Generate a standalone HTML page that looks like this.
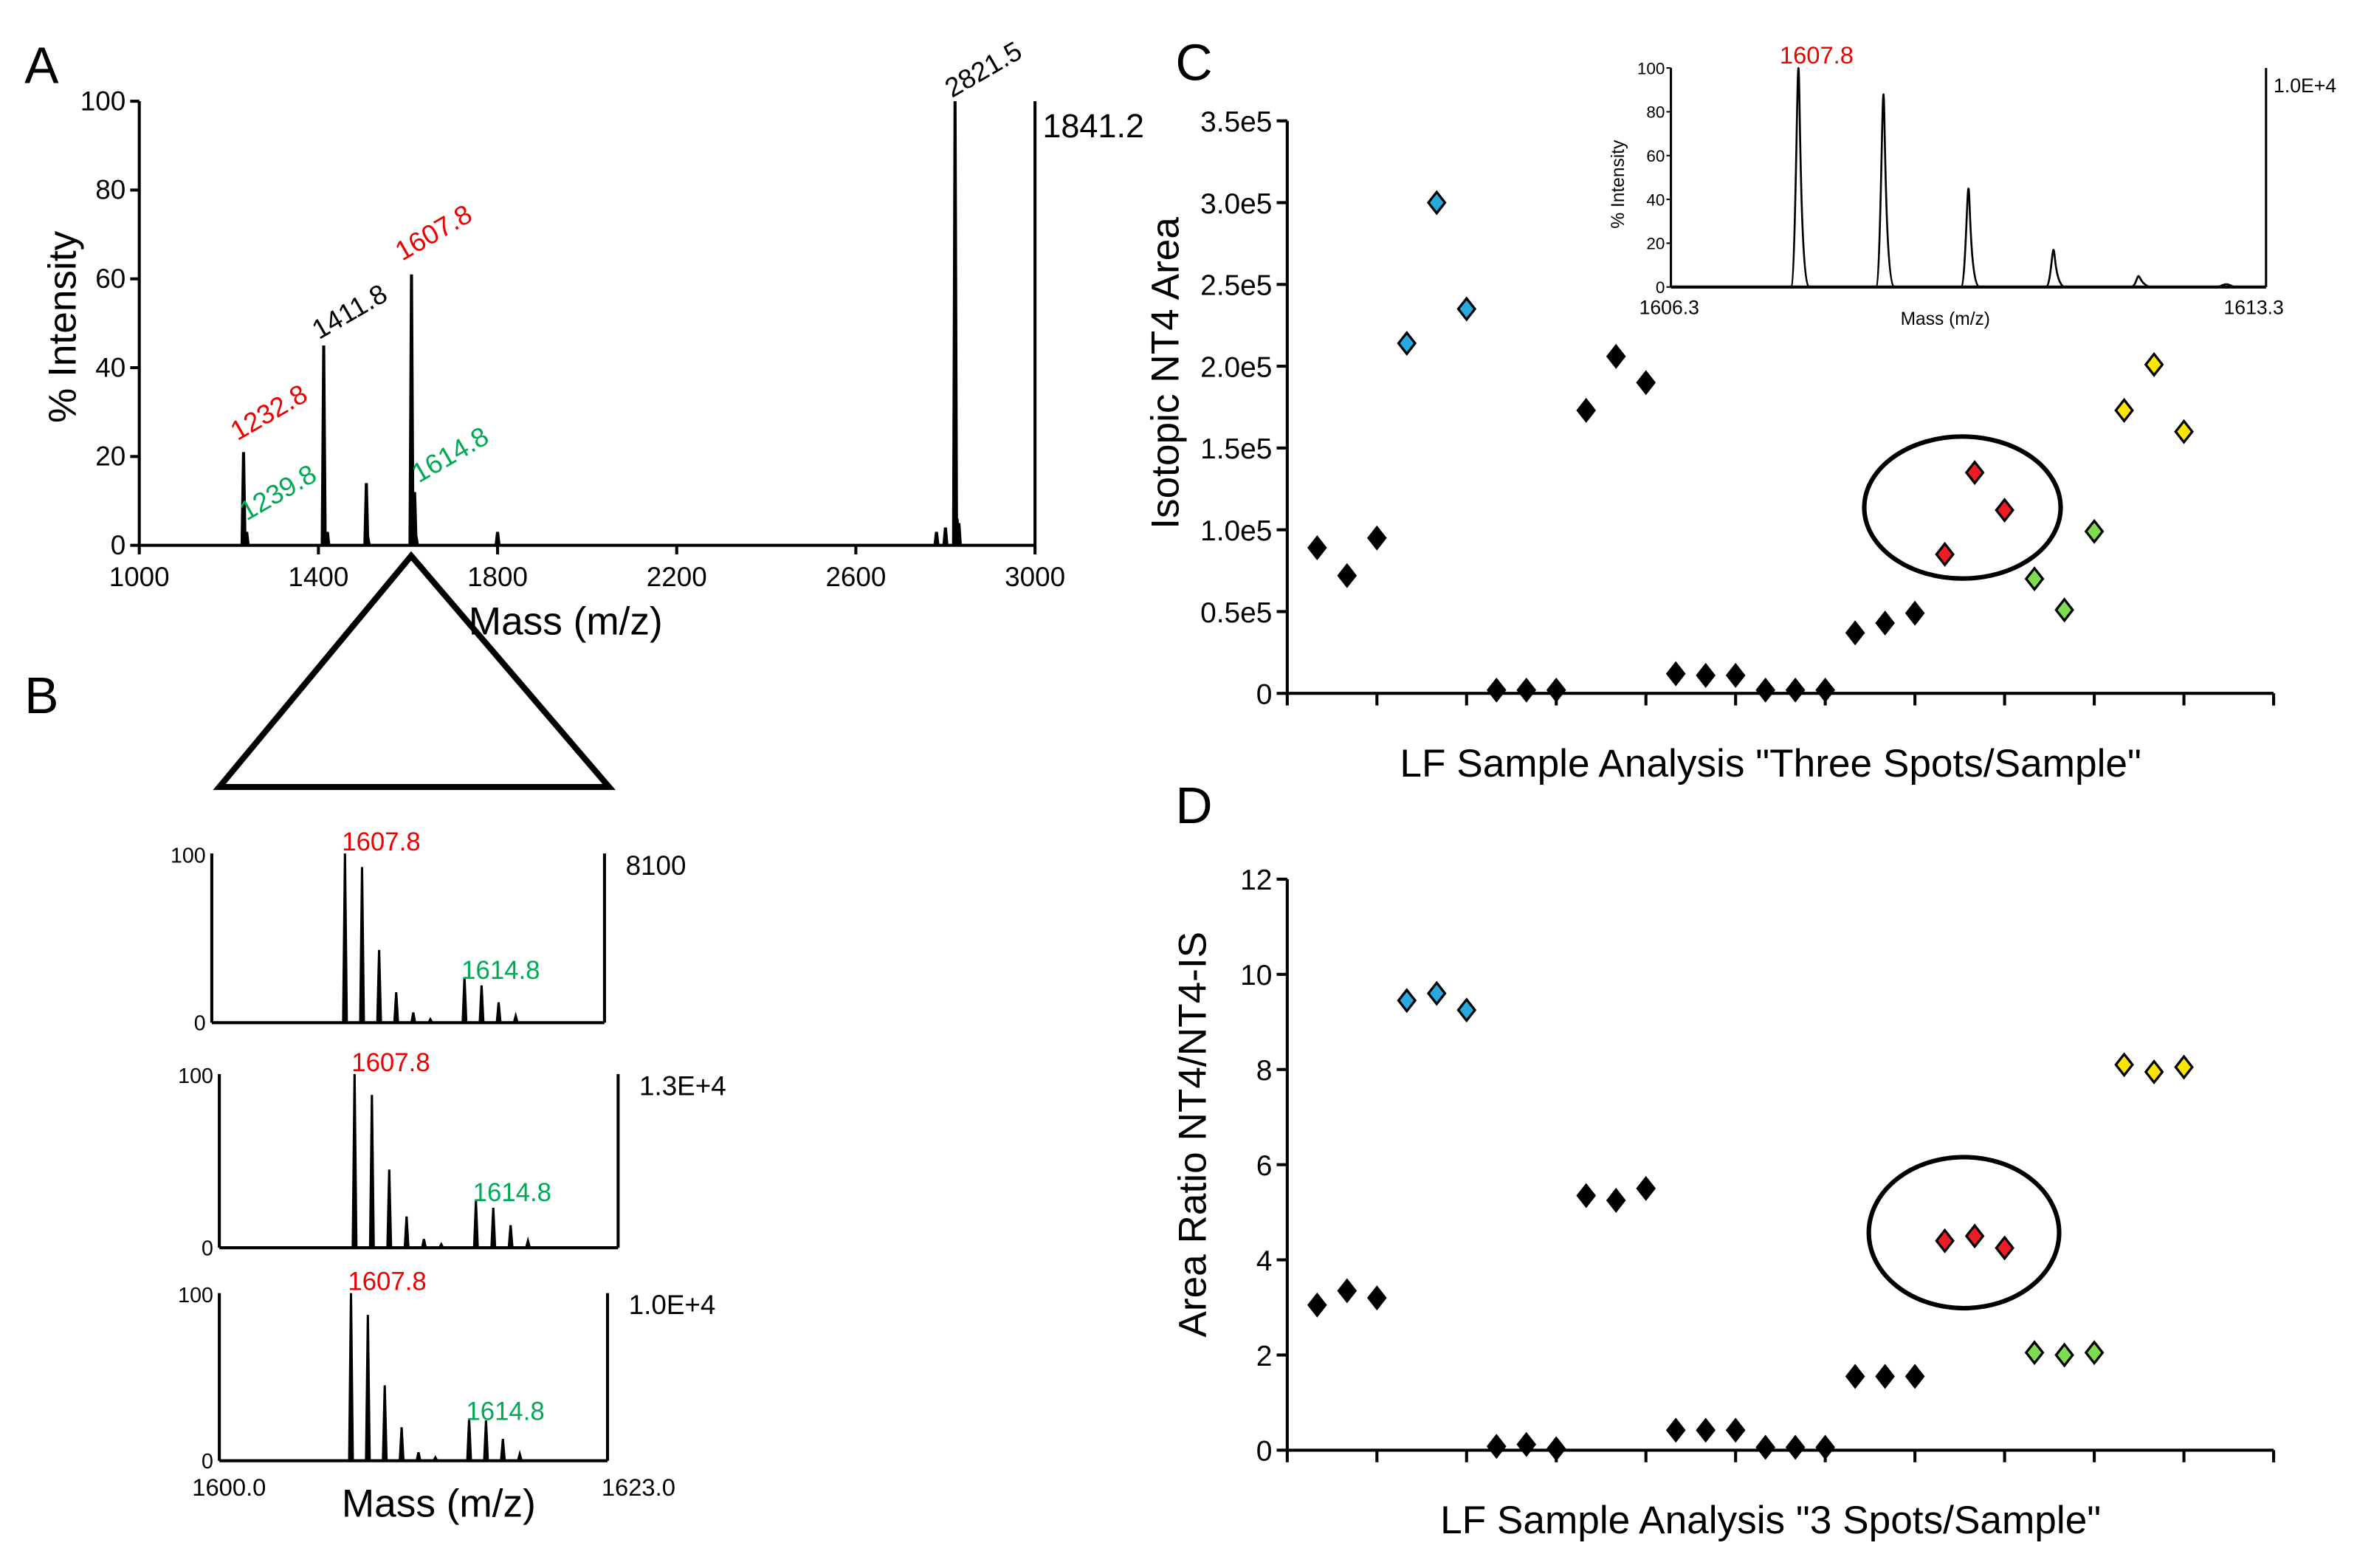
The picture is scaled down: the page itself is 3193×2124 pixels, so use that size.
<!DOCTYPE html>
<html><head><meta charset="utf-8"><style>
html,body{margin:0;padding:0;background:#fff;}
svg{display:block;font-family:"Liberation Sans",Arial,sans-serif;}
</style></head><body>
<svg id="fig" width="3193" height="2124" viewBox="0 0 1560 1038" xmlns="http://www.w3.org/2000/svg">
<rect width="1560" height="1038" fill="#fff"/>
<g id="gA"></g>
<g id="gB"></g>
<g id="gC"></g>
<g id="gD"></g>
</svg>
<script>
// ---------- data ----------
const specAMasses = [1232.8,1235,1239.8,1411.8,1414,1420,1507,1510,1607.8,1611,1614.8,1618,1800,2780,2800,2821.5,2826,2830];
const specAHeights = [21,3,3,45,4,3,14,2,61,4,12,2,3,3,4,100,6,5];
const aYTicks = [0,20,40,60,80,100];
const aXTicks = [1000,1400,1800,2200,2600,3000];
const bMasses = [1607.8,1608.8,1609.8,1610.8,1611.8,1612.8,1614.8,1615.8,1616.8,1617.8];
const b1Heights = [100,92,43,18,6,2,27,22,12,4];
const b2Heights = [100,88,45,18,5,2,27,23,13,4];
const b3Heights = [100,87,45,20,5,2,25,24,13,4];
const insetMasses = [1607.8,1608.8,1609.8,1610.8,1611.8,1612.8];
const insetHeights = [100,88,45,17,5,1];
const insetTicks = [0,20,40,60,80,100];
const cValues = [0.89,0.72,0.95, 2.14,3.0,2.35, 0.02,0.02,0.02, 1.73,2.06,1.90, 0.12,0.11,0.11, 0.02,0.02,0.02, 0.37,0.43,0.49, 0.85,1.35,1.12, 0.70,0.51,0.99, 1.73,2.01,1.60];
const cTicks = [0,0.5,1.0,1.5,2.0,2.5,3.0,3.5];
const cTickLabels = ["0","0.5e5","1.0e5","1.5e5","2.0e5","2.5e5","3.0e5","3.5e5"];
const dValues = [3.05,3.35,3.2, 9.45,9.6,9.25, 0.08,0.12,0.03, 5.35,5.25,5.5, 0.42,0.42,0.42, 0.06,0.06,0.06, 1.55,1.55,1.55, 4.4,4.5,4.25, 2.05,2.0,2.05, 8.1,7.95,8.05];
const dTicks = [0,2,4,6,8,10,12];
const groupColors = ["#000","#29a9e0","#000","#000","#000","#000","#000","#ee1c24","#7ddc4f","#ffe600"];

const NS="http://www.w3.org/2000/svg";
function mk(parent,tag,attrs,text){const e=document.createElementNS(NS,tag);for(const k in attrs)e.setAttribute(k,attrs[k]);if(text!==undefined)e.textContent=text;parent.appendChild(e);return e;}

// ---------- Panel A ----------
const gA=document.getElementById('gA');
const axA=m=>92+(m-1000)*(593/2000), ayA=v=>361-v*2.94;
let l=mk(gA,'line',{x1:92,y1:67,x2:92,y2:361,stroke:'#000','stroke-width':2});

l=mk(gA,'line',{x1:92,y1:361,x2:685,y2:361,stroke:'#000','stroke-width':2});

l=mk(gA,'line',{x1:685,y1:67,x2:685,y2:361,stroke:'#000','stroke-width':2});

aYTicks.forEach(v=>{mk(gA,'line',{x1:86,y1:ayA(v),x2:92,y2:ayA(v),stroke:'#000','stroke-width':2});
 const t=mk(gA,'text',{x:83,y:ayA(v)+6,'text-anchor':'end','font-size':18},String(v));
 });
aXTicks.forEach(v=>{mk(gA,'line',{x1:axA(v),y1:361,x2:axA(v),y2:367,stroke:'#000','stroke-width':2});
 const t=mk(gA,'text',{x:axA(v),y:388,'text-anchor':'middle','font-size':18},String(v));
 });
let pd='';specAMasses.forEach((m,i)=>{const x=axA(m);pd+=`M${x-1},361 L${x},${ayA(specAHeights[i])} L${x+1},361 `;});
l=mk(gA,'path',{d:pd,stroke:'#000','stroke-width':2,fill:'#000'});

let t=mk(gA,'text',{x:16,y:55,'font-size':34},'A');
t=mk(gA,'text',{x:0,y:0,'font-size':26,transform:'translate(50,280) rotate(-90)'},'% Intensity');
t=mk(gA,'text',{x:310,y:420,'font-size':26},'Mass (m/z)');
t=mk(gA,'text',{x:690,y:91,'font-size':22},'1841.2');
[[157,292,'1232.8','#e00'],[163,345,'1239.8','#0a5'],[211,225,'1411.8','#000'],[266,173,'1607.8','#e00'],[277,320,'1614.8','#0a5'],[630,65,'2821.5','#000']].forEach(p=>{
 const e=mk(gA,'text',{x:p[0],y:p[1],'font-size':18,fill:p[3],transform:`rotate(-30 ${p[0]} ${p[1]})`},p[2]);
 });

// ---------- Panel B ----------
const gB=document.getElementById('gB');
t=mk(gB,'text',{x:16,y:472,'font-size':34},'B');
l=mk(gB,'polygon',{points:'272,368 145,521 403,521',fill:'none',stroke:'#000','stroke-width':4});

function spectrumB(x0,x1,y0,y100,heights,scale,lblY,idx){
 const sx=m=>x0+(m-1600)*(x1-x0)/23, sy=v=>y0-v*(y0-y100)/100;
 mk(gB,'line',{x1:x0,y1:y100,x2:x0,y2:y0,stroke:'#000','stroke-width':2});
 mk(gB,'line',{x1:x0,y1:y0,x2:x1,y2:y0,stroke:'#000','stroke-width':2});
 mk(gB,'line',{x1:x1,y1:y100,x2:x1,y2:y0,stroke:'#000','stroke-width':2});
 let d='';bMasses.forEach((m,i)=>{const x=sx(m);d+=`M${x-1.2},${y0} L${x},${sy(heights[i])} L${x+1.2},${y0} `;});
 const p=mk(gB,'path',{d:d,fill:'#000',stroke:'#000','stroke-width':1.5});
 
 let e=mk(gB,'text',{x:x0-4,y:y100+6,'text-anchor':'end','font-size':14},'100');
 e=mk(gB,'text',{x:x0-4,y:y0+5,'text-anchor':'end','font-size':14},'0');
 e=mk(gB,'text',{x:x1+14,y:y100+14,'font-size':18},scale);
 e=mk(gB,'text',{x:sx(1607.8)-2,y:y100-2,'font-size':17,fill:'#e00'},'1607.8');
 e=mk(gB,'text',{x:sx(1614.8)-2,y:lblY,'font-size':17,fill:'#0a5'},'1614.8');
}
spectrumB(140,400,677,565,b1Heights,'8100',648,1);
spectrumB(145,409,826,711,b2Heights,'1.3E+4',795,2);
spectrumB(145,402,967,856,b3Heights,'1.0E+4',940,3);
t=mk(gB,'text',{x:127,y:990,'font-size':16},'1600.0');
t=mk(gB,'text',{x:398,y:990,'font-size':16},'1623.0');
t=mk(gB,'text',{x:226,y:1004,'font-size':26},'Mass (m/z)');

// ---------- scatter helper ----------
function scatter(g,prefix,values,ticks,tickLabels,yBottom,yTop,maxV,ellipse,xTitle,yTitle,letterY){
 const x0=852,x1=1505,step=(x1-x0)/33;
 const sy=v=>yBottom-v*(yBottom-yTop)/maxV, sx=i=>x0+step*(i+1);
 let a=mk(g,'line',{x1:x0,y1:yTop,x2:x0,y2:yBottom,stroke:'#000','stroke-width':2});
 
 a=mk(g,'line',{x1:x0,y1:yBottom,x2:x1,y2:yBottom,stroke:'#000','stroke-width':2});
 
 ticks.forEach((v,i)=>{mk(g,'line',{x1:x0-7,y1:sy(v),x2:x0,y2:sy(v),stroke:'#000','stroke-width':2});
  const e=mk(g,'text',{x:x0-10,y:sy(v)+7,'text-anchor':'end','font-size':19},tickLabels[i]);
  });
 for(let k=0;k<=33;k+=3){mk(g,'line',{x1:x0+k*step,y1:yBottom,x2:x0+k*step,y2:yBottom+8,stroke:'#000','stroke-width':2});}
 mk(g,'line',{x1:x1,y1:yBottom,x2:x1,y2:yBottom+8,stroke:'#000','stroke-width':2});
 values.forEach((v,i)=>{const x=sx(i),y=sy(v),c=groupColors[Math.floor(i/3)];
  const p=mk(g,'polygon',{points:`${x},${y-7} ${x+5.5},${y} ${x},${y+7} ${x-5.5},${y}`,fill:c,stroke:'#000','stroke-width':1.6});
  });
 const el=mk(g,'ellipse',{cx:ellipse[0],cy:ellipse[1],rx:ellipse[2],ry:ellipse[3],fill:'none',stroke:'#000','stroke-width':3});
 
 let e=mk(g,'text',{x:1172,y:yBottom+55,'text-anchor':'middle','font-size':26},xTitle);
 
 e=mk(g,'text',{x:0,y:0,'text-anchor':'middle','font-size':26,transform:`translate(${yTitle[1]},${yTitle[2]}) rotate(-90)`},yTitle[0]);
 
 e=mk(g,'text',{x:778,y:letterY,'font-size':34},prefix.toUpperCase());
 
}
const gC=document.getElementById('gC'),gD=document.getElementById('gD');
scatter(gC,'c',cValues,cTicks,cTickLabels,459,80,3.5,[1299,336,65,47],'LF Sample Analysis "Three Spots/Sample"',['Isotopic NT4 Area',780,247],53);
scatter(gD,'d',dValues,dTicks,dTicks.map(String),960,582,12,[1300,816,63,50],'LF Sample Analysis "3 Spots/Sample"',['Area Ratio NT4/NT4-IS',798,751],545);

// ---------- Inset in C ----------
const ix0=1106,ix1=1500,iy0=190,iy100=45;
const isx=m=>ix0+(m-1606.3)*(ix1-ix0)/7, isy=v=>iy0-v*(iy0-iy100)/100;
mk(gC,'line',{x1:ix0,y1:iy100,x2:ix0,y2:iy0,stroke:'#000','stroke-width':1.5});
mk(gC,'line',{x1:ix0,y1:iy0,x2:ix1,y2:iy0,stroke:'#000','stroke-width':2});
mk(gC,'line',{x1:ix1,y1:iy100,x2:ix1,y2:iy0,stroke:'#000','stroke-width':1.5});
insetTicks.forEach(v=>{mk(gC,'line',{x1:ix0-3,y1:isy(v),x2:ix0,y2:isy(v),stroke:'#000'});
 const e=mk(gC,'text',{x:ix0-4,y:isy(v)+4,'text-anchor':'end','font-size':11},String(v));
 });
let idd='';insetMasses.forEach((m,i)=>{const x=isx(m),y=isy(insetHeights[i]);idd+=`M${x-5},${iy0} C${x-2},${iy0} ${x-1},${y} ${x},${y} C${x+1},${y} ${x+1},${iy0-3} ${x+7},${iy0} `;});
l=mk(gC,'path',{d:idd,fill:'none',stroke:'#000','stroke-width':1.3});

t=mk(gC,'text',{x:1178,y:42,'font-size':16,fill:'#e00'},'1607.8');
t=mk(gC,'text',{x:1505,y:61,'font-size':13},'1.0E+4');
t=mk(gC,'text',{x:1085,y:208,'font-size':13},'1606.3');
t=mk(gC,'text',{x:1472,y:208,'font-size':13},'1613.3');
t=mk(gC,'text',{x:1258,y:215,'font-size':12},'Mass (m/z)');
t=mk(gC,'text',{x:0,y:0,'font-size':12,'text-anchor':'middle',transform:'translate(1075,122) rotate(-90)'},'% Intensity');
</script>
</body></html>
